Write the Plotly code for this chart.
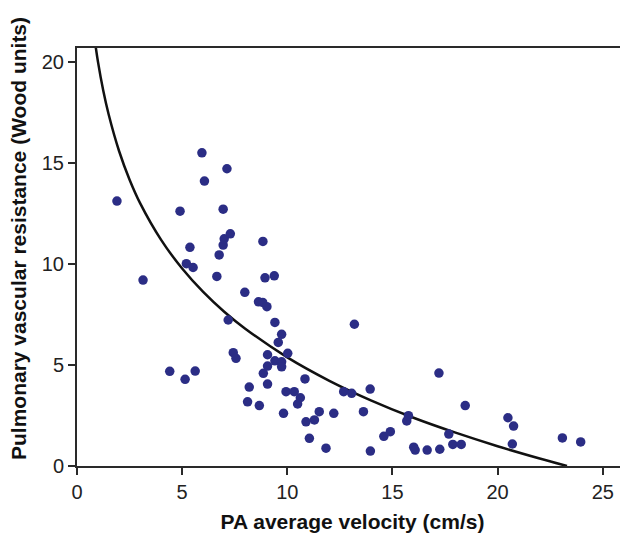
import plotly.graph_objects as go

# Scatter data: PA average velocity (cm/s) vs PVR (Wood units)
velocity = [1.90, 3.14, 4.41, 4.90, 5.14, 5.20, 5.37, 5.52, 5.62, 5.94,
            6.06, 6.65, 6.76, 6.95, 6.95, 7.00, 7.13, 7.29, 7.19, 7.43,
            7.56, 7.98, 8.11, 8.19, 8.63, 8.83, 8.84, 8.67, 8.86, 8.94,
            9.03, 9.06, 9.06, 9.06, 9.38, 9.41, 9.41, 9.57, 9.73, 9.73,
            9.73, 9.82, 9.94, 10.02, 10.33, 10.49, 10.62, 10.84, 10.89, 11.05,
            11.29, 11.52, 11.84, 12.21, 12.68, 13.06, 13.62, 13.94, 13.95, 14.59,
            14.90, 15.68, 15.76, 16.01, 16.08, 16.65, 17.21, 17.25, 17.68, 17.87,
            18.27, 18.46, 20.49, 20.76, 20.70, 23.08, 23.95, 13.19]
resistance = [13.12, 9.21, 4.69, 12.62, 4.29, 10.02, 10.83, 9.83, 4.70, 15.51,
              14.11, 9.39, 10.45, 12.72, 10.94, 11.25, 14.72, 11.50, 7.23, 5.61,
              5.33, 8.60, 3.18, 3.91, 8.13, 8.10, 11.12, 2.99, 4.59, 9.32,
              7.89, 5.51, 4.95, 4.06, 9.42, 7.11, 5.21, 6.12, 6.52, 5.16,
              4.91, 2.61, 3.68, 5.58, 3.68, 3.07, 3.38, 4.31, 2.19, 1.37,
              2.28, 2.69, 0.88, 2.61, 3.68, 3.60, 2.69, 3.81, 0.74, 1.47,
              1.70, 2.23, 2.49, 0.93, 0.79, 0.79, 4.60, 0.83, 1.58, 1.07,
              1.07, 2.99, 2.39, 1.98, 1.09, 1.39, 1.19, 7.02]

# Fitted curve, points
curve_x = [0.8, 1.0, 1.25, 1.5, 2.0, 2.5, 3.0, 4.0, 5.0, 6.0, 7.0, 8.0,
           10.0, 12.0, 14.0, 16.0, 18.0, 20.0, 22.0, 23.3]
curve_y = [21.42, 20.00, 18.58, 17.43, 15.60, 14.18, 13.02, 11.20, 9.78, 8.62,
           7.64, 6.80, 5.38, 4.22, 3.24, 2.39, 1.65, 0.98, 0.37, 0.0]

x_ticks = [0, 5, 10, 15, 20, 25]
y_ticks = [0, 5, 10, 15, 20]

FONT = "Liberation Sans, Arial, sans-serif"
AXIS_COLOR = "#2a2a2a"

fig = go.Figure()
fig.add_trace(go.Scatter(
    x=curve_x, y=curve_y, mode="lines", line_shape="spline",
    line=dict(color="#111111", width=2.5), hoverinfo="skip", showlegend=False,
))
fig.add_trace(go.Scatter(
    x=velocity, y=resistance, mode="markers",
    marker=dict(color="#2b2d85", size=9.5, line=dict(width=0)),
    showlegend=False,
))

# page body has an 8px default margin, so the figure is sized to fit the window
fig.update_layout(
    width=620, height=530,
    margin=dict(l=69, r=0, t=40, b=72),
    paper_bgcolor="white", plot_bgcolor="white",
    font=dict(family=FONT, color="#222222"),
    xaxis=dict(
        range=[0, 26.2], tickvals=x_ticks, ticks="outside", ticklen=7,
        tickwidth=2, tickcolor=AXIS_COLOR, showline=True, linecolor=AXIS_COLOR,
        linewidth=2, mirror=True, showgrid=False, zeroline=False,
        tickfont=dict(size=20, family=FONT, color="#222222"),
        title=dict(text="<b>PA average velocity (cm/s)</b>",
                   font=dict(size=21, family=FONT, color="#111111"), standoff=12),
    ),
    yaxis=dict(
        range=[0, 20.7], tickvals=y_ticks, ticks="outside", ticklen=7,
        tickwidth=2, tickcolor=AXIS_COLOR, showline=True, linecolor=AXIS_COLOR,
        linewidth=2, showgrid=False, zeroline=False,
        tickfont=dict(size=20, family=FONT, color="#222222"),
    ),
    annotations=[dict(
        text="<b>Pulmonary vascular resistance (Wood units)</b>",
        xref="paper", yref="paper", x=0, y=0.543, xshift=-59,
        xanchor="center", yanchor="middle", textangle=-90, showarrow=False,
        font=dict(size=21, family=FONT, color="#111111"),
    )],
)

fig.write_html("out.html")
